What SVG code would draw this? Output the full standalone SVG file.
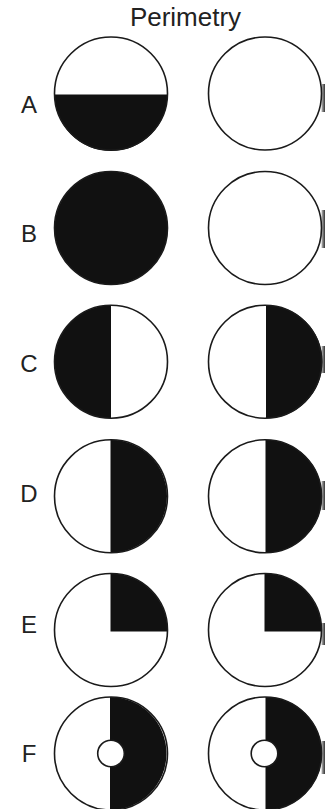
<svg xmlns="http://www.w3.org/2000/svg" width="325" height="809" viewBox="0 0 325 809">
  <defs>
    <style>
      .disc { fill: #fff; stroke: none; }
      .ring { fill: none; stroke: #1a1a1a; stroke-width: 1.6; }
      .blk { fill: #111; stroke: none; }
      .hole { fill: #fff; stroke: #1a1a1a; stroke-width: 1.6; }
      .lbl { font-family: "Liberation Sans", Arial, sans-serif; font-size: 24px; fill: #222; text-anchor: middle; }
      .title { font-family: "Liberation Sans", Arial, sans-serif; font-size: 26px; fill: #222; text-anchor: middle; }
    </style>
    <linearGradient id="edge" x1="0" y1="0" x2="1" y2="0">
      <stop offset="0" stop-color="#bbb"/>
      <stop offset="1" stop-color="#333"/>
    </linearGradient>
  </defs>
  <rect width="325" height="809" fill="#fff"/>
  <text class="title" x="185.5" y="25.5">Perimetry</text>

  <g id="edge-marks" fill="url(#edge)">
    <rect x="321.5" y="84" width="3.5" height="28"/>
    <rect x="321.5" y="210" width="3.5" height="38"/>
    <rect x="321.5" y="346" width="3.5" height="27"/>
    <rect x="321.5" y="481" width="3.5" height="29"/>
    <rect x="321.5" y="623" width="3.5" height="22"/>
    <rect x="321.5" y="741" width="3.5" height="33"/>
  </g>

  <!-- Row A -->
  <g id="row-A">
    <text class="lbl" x="29" y="113">A</text>
    <g id="A-left">
      <circle class="disc" cx="111" cy="93.5" r="56.5"/>
      <path class="blk" d="M54.5,94.5 A56.5,56.5 0 0 0 167.5,94.5 Z"/>
      <circle class="ring" cx="111" cy="93.5" r="56.5"/>
    </g>
    <g id="A-right">
      <circle class="disc" cx="265" cy="93.5" r="56.5"/>
      <circle class="ring" cx="265" cy="93.5" r="56.5"/>
    </g>
  </g>

  <!-- Row B -->
  <g id="row-B">
    <text class="lbl" x="29" y="242">B</text>
    <g id="B-left">
      <circle class="blk" cx="111" cy="228" r="56.5"/>
      <circle class="ring" cx="111" cy="228" r="56.5"/>
    </g>
    <g id="B-right">
      <circle class="disc" cx="265" cy="228" r="56.5"/>
      <circle class="ring" cx="265" cy="228" r="56.5"/>
    </g>
  </g>

  <!-- Row C -->
  <g id="row-C">
    <text class="lbl" x="29" y="372">C</text>
    <g id="C-left">
      <circle class="disc" cx="111" cy="361.7" r="56.5"/>
      <path class="blk" d="M111,305.2 A56.5,56.5 0 0 0 111,418.2 Z"/>
      <circle class="ring" cx="111" cy="361.7" r="56.5"/>
    </g>
    <g id="C-right">
      <circle class="disc" cx="265" cy="361.7" r="56.5"/>
      <path class="blk" d="M266,305.2 A56.5,56.5 0 0 1 266,418.2 Z"/>
      <circle class="ring" cx="265" cy="361.7" r="56.5"/>
    </g>
  </g>

  <!-- Row D -->
  <g id="row-D">
    <text class="lbl" x="29" y="502">D</text>
    <g id="D-left">
      <circle class="disc" cx="111" cy="496.3" r="56.5"/>
      <path class="blk" d="M110.5,439.8 A56.5,56.5 0 0 1 110.5,552.8 Z"/>
      <circle class="ring" cx="111" cy="496.3" r="56.5"/>
    </g>
    <g id="D-right">
      <circle class="disc" cx="265" cy="496.3" r="56.5"/>
      <path class="blk" d="M265.5,439.8 A56.5,56.5 0 0 1 265.5,552.8 Z"/>
      <circle class="ring" cx="265" cy="496.3" r="56.5"/>
    </g>
  </g>

  <!-- Row E -->
  <g id="row-E">
    <text class="lbl" x="29" y="633">E</text>
    <g id="E-left">
      <circle class="disc" cx="111" cy="630" r="56.5"/>
      <path class="blk" d="M110.5,631.5 L110.5,573.5 A56.5,56.5 0 0 1 167.5,631.5 Z"/>
      <circle class="ring" cx="111" cy="630" r="56.5"/>
    </g>
    <g id="E-right">
      <circle class="disc" cx="265" cy="630" r="56.5"/>
      <path class="blk" d="M264.5,631.5 L264.5,573.5 A56.5,56.5 0 0 1 321.5,631.5 Z"/>
      <circle class="ring" cx="265" cy="630" r="56.5"/>
    </g>
  </g>

  <!-- Row F -->
  <g id="row-F">
    <text class="lbl" x="29" y="762">F</text>
    <g id="F-left">
      <circle class="disc" cx="111" cy="753.5" r="56.5"/>
      <path class="blk" d="M110,697 A56.5,56.5 0 0 1 110,810 Z"/>
      <circle class="ring" cx="111" cy="753.5" r="56.5"/>
      <circle class="hole" cx="111" cy="753.5" r="13.3"/>
    </g>
    <g id="F-right">
      <circle class="disc" cx="265" cy="753.5" r="56.5"/>
      <path class="blk" d="M265.5,697 A56.5,56.5 0 0 1 265.5,810 Z"/>
      <circle class="ring" cx="265" cy="753.5" r="56.5"/>
      <circle class="hole" cx="264.5" cy="753.5" r="13.3"/>
    </g>
  </g>
</svg>
